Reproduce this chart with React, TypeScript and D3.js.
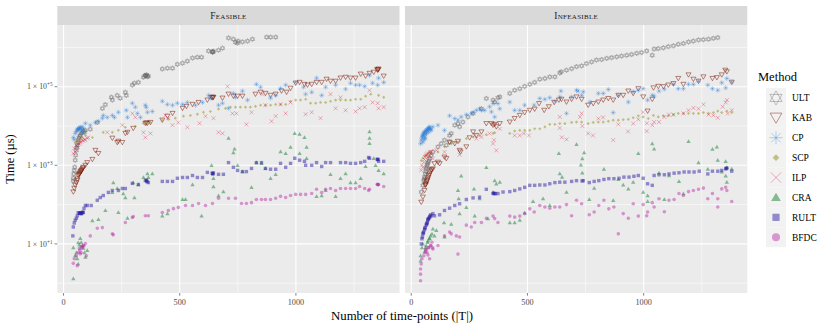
import React from 'react'
import * as d3 from 'd3'

// each point: [number of time-points |T|, time in µs]
type Pt = [number, number]

const methods = ['ULT', 'KAB', 'CP', 'SCP', 'ILP', 'CRA', 'RULT', 'BFDC']
const panels = ['Feasible', 'Infeasible']
const yBreaks = [1e1, 1e3, 1e5]
const yMinorBreaks = [1e0, 1e2, 1e4, 1e6]
const xBreaks = [0, 500, 1000]
const xMinorBreaks = [250, 750, 1250]

// ---------- Feasible ----------
const ultFeasible: Pt[] = [[42,400],[42,470],[44,600],[46,740],[48,900],[50,1350],[52,1800],[55,2400],[57,2800],[59,3200],[61,3800],[63,4400],[66,5000],[70,5500],[72,5800],[76,6500],[81,6900],[85,7500],[90,7000],[94,7800],[115,8300],[145,12300],[167,28000],[180,35000],[206,54000],[210,46000],[231,60000],[244,51000],[266,72000],[270,60000],[296,110000],[305,123000],[322,129000],[344,174000],[350,190000],[352,195000],[356,190000],[358,200000],[362,180000],[365,186000],[425,282000],[447,295000],[469,295000],[490,372000],[512,398000],[533,447000],[555,537000],[576,562000],[594,562000],[624,813000],[640,780000],[641,759000],[643,760000],[645,800000],[667,851000],[684,955000],[710,1.74e6],[731,1.62e6],[740,1.35e6],[749,1.29e6],[751,1.45e6],[770,1.38e6],[792,1.45e6],[813,1.62e6],[874,1.82e6],[891,1.82e6],[913,1.82e6]]
const kabFeasible: Pt[] = [[42,210],[46,260],[50,310],[55,360],[59,410],[60,450],[63,550],[66,580],[68,600],[70,620],[72,660],[74,700],[76,720],[78,750],[81,790],[83,850],[85,890],[94,1000],[102,1170],[124,1410],[137,2400],[150,2000],[210,4900],[231,3800],[236,4100],[253,3800],[266,6500],[275,6900],[300,8700],[352,11700],[356,12000],[361,11700],[374,12300],[425,14100],[447,17800],[469,20900],[512,28200],[529,31600],[555,35500],[581,39800],[619,45700],[637,53700],[641,52000],[643,54000],[645,53700],[684,51300],[710,64600],[731,57500],[749,57500],[770,57500],[826,64600],[848,72400],[869,67600],[891,60300],[913,64600],[938,77600],[960,72400],[977,91200],[999,123000],[1016,129000],[1037,115000],[1050,110000],[1068,115000],[1089,129000],[1111,129000],[1132,155000],[1149,138000],[1171,138000],[1192,166000],[1214,174000],[1235,166000],[1257,166000],[1279,209000],[1300,186000],[1317,219000],[1335,234000],[1350,275000],[1352,263000],[1354,270000],[1356,282000],[1378,186000]]
const cpFeasible: Pt[] = [[42,5100],[46,4500],[50,6500],[55,7200],[59,7800],[60,8200],[63,8700],[66,8000],[68,8600],[70,9000],[72,9300],[76,8200],[80,9500],[81,6900],[85,8700],[94,11700],[115,10500],[137,12300],[150,13200],[167,15800],[171,18600],[188,16600],[210,18600],[219,16600],[236,22400],[270,25100],[275,16600],[296,38000],[309,30200],[318,20900],[331,16600],[352,33900],[356,30000],[361,22400],[382,23400],[425,42700],[447,35500],[469,33900],[490,38000],[512,35500],[533,39800],[568,33900],[598,39800],[624,60300],[632,51300],[667,33900],[684,38000],[710,28200],[731,67600],[740,53700],[770,77600],[792,45700],[830,115000],[848,97700],[891,51300],[913,60300],[934,91200],[956,110000],[999,129000],[1033,97700],[1042,64600],[1068,72400],[1089,166000],[1111,60300],[1128,97700],[1171,110000],[1214,87100],[1235,123000],[1257,110000],[1274,110000],[1296,102000],[1317,195000],[1330,123000],[1352,110000],[1356,166000],[1378,129000]]
const scpFeasible: Pt[] = [[50,3800],[59,4400],[72,4600],[81,5100],[94,5800],[124,5100],[171,6900],[210,6900],[236,7800],[266,9300],[309,9800],[344,11700],[356,12300],[374,12300],[425,14100],[451,14800],[481,15800],[516,17800],[546,18600],[576,20000],[602,22400],[632,23400],[667,26900],[697,28200],[718,30200],[740,30200],[761,30200],[783,30200],[804,30200],[826,31600],[848,33900],[869,33900],[891,33900],[913,35500],[934,35500],[956,35500],[977,42700],[999,45700],[1020,45700],[1042,47900],[1063,38000],[1085,38000],[1106,39800],[1128,39800],[1149,42700],[1171,45700],[1192,45700],[1214,45700],[1235,45700],[1257,47900],[1279,47900],[1300,57500],[1322,64600],[1356,60300],[1378,53700]]
const ilpFeasible: Pt[] = [[42,2000],[46,2700],[50,2200],[55,3200],[59,3000],[63,3600],[68,3500],[72,3800],[76,4000],[81,4400],[85,4200],[90,4600],[94,4400],[102,4900],[106,5100],[188,6900],[253,10500],[296,20900],[309,16600],[344,6900],[352,5100],[374,6500],[438,18600],[451,15800],[469,10500],[494,12300],[533,9300],[585,11700],[611,17800],[645,15800],[667,6900],[684,6500],[706,102000],[727,20900],[744,20900],[787,11000],[809,22400],[856,64600],[869,33900],[895,13200],[913,17800],[934,35500],[956,20900],[977,39800],[1042,20000],[1068,22400],[1106,15800],[1149,64600],[1171,28200],[1192,53700],[1214,25100],[1257,23400],[1274,28200],[1296,30200],[1317,81300],[1330,39800],[1352,38000],[1356,28200],[1378,30200]]
const craFeasible: Pt[] = [[42,1.3],[42,8.1],[50,5.0],[55,6.0],[59,4.2],[63,3.1],[63,10.7],[68,9.5],[72,13.8],[76,11],[81,9.1],[85,7.8],[90,6.0],[94,4.6],[102,6.8],[124,39],[150,42],[180,71],[210,204],[214,363],[231,257],[236,63],[257,191],[266,151],[275,45],[300,363],[305,151],[322,324],[344,490],[361,617],[365,490],[382,617],[425,52],[447,59],[512,135],[525,135],[555,324],[594,52],[637,1000],[645,288],[645,468],[667,170],[688,214],[710,4900],[731,2100],[736,2600],[749,1000],[770,692],[809,275],[830,1170],[852,1120],[869,832],[891,468],[913,589],[934,2240],[956,2000],[977,2880],[995,6500],[1016,6170],[1016,2000],[1037,5100],[1046,2880],[1046,1510],[1089,162],[1111,170],[1128,229],[1149,589],[1171,162],[1192,468],[1214,617],[1235,363],[1257,363],[1279,468],[1300,933],[1317,7240],[1317,4900],[1317,3630],[1335,1510],[1343,1000],[1356,741],[1378,617]]
const rultFeasible: Pt[] = [[40,16],[42,27],[46,34],[50,40],[55,45],[59,52],[63,62],[68,60],[70,60],[72,62],[74,62],[76,58],[78,60],[81,63],[83,64],[85,63],[88,80],[94,95],[102,95],[119,95],[145,129],[158,151],[171,170],[193,204],[210,229],[236,229],[253,257],[266,257],[296,347],[322,324],[352,407],[356,420],[358,400],[360,380],[365,363],[425,389],[447,389],[469,389],[490,468],[512,490],[533,490],[555,550],[576,490],[598,490],[619,661],[640,630],[641,617],[643,600],[645,640],[667,589],[688,589],[710,1170],[731,891],[749,741],[770,692],[787,692],[809,832],[830,1170],[852,1170],[869,832],[891,794],[913,794],[934,1120],[956,891],[977,1120],[995,1510],[1016,1350],[1037,1260],[1042,1000],[1068,1000],[1089,1170],[1111,933],[1128,1170],[1149,1170],[1192,1170],[1214,1170],[1235,1120],[1257,1120],[1279,1170],[1296,1260],[1313,1580],[1317,1510],[1350,1420],[1352,1410],[1354,1400],[1356,1260],[1378,1260]]
const bfdcFeasible: Pt[] = [[42,3.2],[46,4.2],[55,5.0],[59,2.8],[63,6.0],[68,7.6],[70,7],[72,5.6],[75,6],[76,8.5],[80,8],[85,9.1],[88,9],[94,10.2],[98,5.0],[115,16],[145,25],[167,26],[210,18],[214,17],[266,35],[296,47],[300,50],[352,52],[365,52],[425,63],[451,71],[473,79],[494,85],[525,95],[555,95],[581,107],[611,95],[641,107],[667,145],[710,145],[740,145],[766,107],[787,107],[809,112],[830,135],[852,135],[869,135],[891,135],[913,145],[934,162],[956,151],[977,170],[999,182],[1020,182],[1042,182],[1068,191],[1089,245],[1111,204],[1128,245],[1149,257],[1171,229],[1192,257],[1214,257],[1235,257],[1257,257],[1274,288],[1296,257],[1313,229],[1317,245],[1350,330],[1352,324],[1354,320],[1356,324],[1378,288]]

// ---------- Infeasible ----------
const ultInfeasible: Pt[] = [[43,209],[50,309],[54,407],[56,450],[57,501],[60,603],[62,700],[64,813],[66,900],[69,995],[70,1100],[72,1200],[76,1300],[79,1480],[86,1780],[93,2190],[115,2950],[129,3550],[143,4370],[151,3240],[165,5750],[165,3890],[172,6460],[187,10500],[201,11500],[208,9550],[222,12600],[244,17000],[266,20900],[302,27500],[323,50100],[352,45700],[359,40700],[373,52500],[381,55000],[424,67600],[445,81300],[467,89100],[488,102000],[510,115000],[531,129000],[553,155000],[575,162000],[596,178000],[618,178000],[639,224000],[646,240000],[668,263000],[690,288000],[711,324000],[733,339000],[754,389000],[776,427000],[797,479000],[819,490000],[841,525000],[862,550000],[884,575000],[905,603000],[927,631000],[948,661000],[970,708000],[991,741000],[1013,813000],[1037,631000],[1045,912000],[1063,933000],[1085,977000],[1106,1.05e6],[1128,1.1e6],[1149,1.2e6],[1171,1.26e6],[1193,1.38e6],[1214,1.45e6],[1236,1.55e6],[1257,1.58e6],[1279,1.62e6],[1300,1.7e6],[1319,1.78e6]]
const kabInfeasible: Pt[] = [[43,115],[50,155],[57,229],[60,309],[62,320],[64,339],[66,380],[69,407],[71,450],[74,501],[76,550],[79,603],[82,680],[86,741],[88,780],[93,813],[100,1100],[115,1200],[122,1100],[143,1620],[151,1480],[165,3890],[187,3550],[201,4070],[208,2400],[212,2190],[237,2950],[251,5010],[266,7080],[280,5750],[302,7080],[323,11500],[345,11500],[352,10500],[359,11000],[366,9550],[381,11500],[424,12600],[445,15500],[467,18600],[488,21900],[510,25100],[531,26900],[550,37200],[572,25100],[592,30900],[615,39800],[635,45700],[646,47900],[668,40700],[690,47900],[711,55000],[733,47900],[761,33900],[783,37200],[805,40700],[826,45700],[848,50100],[869,45700],[891,60300],[912,60300],[934,77600],[955,67600],[977,89100],[998,55000],[1017,24000],[1037,47900],[1042,93300],[1063,102000],[1085,100000],[1106,110000],[1128,120000],[1149,162000],[1171,115000],[1193,200000],[1214,155000],[1236,138000],[1257,178000],[1296,162000],[1315,170000],[1336,200000],[1351,263000],[1358,240000],[1379,130000]]
const cpInfeasible: Pt[] = [[40,3550],[43,4370],[46,5000],[48,5500],[50,5750],[50,3890],[52,6000],[53,6500],[55,4500],[56,6800],[57,7080],[58,5200],[60,4790],[62,6000],[63,7300],[64,7760],[66,6500],[67,8000],[70,7800],[72,8510],[74,8800],[75,7000],[77,9000],[79,9550],[81,8200],[83,8500],[86,7760],[93,9550],[115,10500],[143,7760],[165,18200],[187,15500],[201,14100],[215,17000],[237,19500],[258,20900],[266,21900],[280,25100],[294,27500],[302,25100],[316,25100],[337,30900],[345,22900],[352,37200],[359,17000],[373,37200],[381,27500],[424,40700],[445,25100],[467,25100],[488,33900],[529,33900],[553,50100],[575,47900],[596,52500],[618,42700],[639,55000],[644,77600],[668,20900],[690,55000],[711,81300],[718,77600],[733,60300],[740,74100],[769,40700],[805,67600],[826,67600],[848,85100],[869,21900],[891,60300],[934,40700],[955,74100],[977,81300],[998,89100],[1017,45700],[1037,60300],[1045,57500],[1066,77600],[1089,87100],[1128,115000],[1149,89100],[1171,89100],[1193,115000],[1214,115000],[1236,138000],[1276,110000],[1296,89100],[1319,81300],[1336,126000],[1353,93300],[1358,162000],[1379,132000]]
const scpInfeasible: Pt[] = [[43,1320],[50,1510],[57,1740],[64,1780],[72,2000],[79,2190],[86,2000],[115,2190],[143,2950],[172,3550],[187,3890],[208,4070],[237,4790],[266,5250],[294,5750],[323,6030],[352,6460],[359,6760],[424,6460],[445,7410],[467,7760],[488,7760],[510,7760],[531,8510],[553,8510],[575,9550],[596,11000],[618,11000],[639,11500],[661,11500],[690,12300],[711,12600],[733,12600],[761,11500],[783,12300],[805,12600],[826,12600],[848,13200],[869,14100],[891,14100],[912,14500],[934,14800],[955,16200],[977,18200],[998,17000],[1020,15500],[1042,18600],[1063,17000],[1085,18200],[1106,18200],[1128,19500],[1149,20900],[1171,20900],[1193,20900],[1214,20900],[1236,20900],[1257,21900],[1279,20900],[1300,21900],[1319,24000],[1336,21900],[1358,24000],[1379,21900]]
const ilpInfeasible: Pt[] = [[43,741],[46,1000],[50,891],[54,1200],[57,1400],[60,1620],[64,1780],[67,1900],[72,2000],[74,1620],[76,1700],[79,2190],[83,2000],[86,2240],[93,1480],[108,2400],[143,2190],[208,1860],[273,5750],[280,4790],[302,5250],[337,6460],[352,3550],[356,4370],[366,2400],[381,8510],[445,5750],[467,5750],[485,6460],[506,5750],[639,17000],[639,8910],[648,5130],[668,4570],[726,17000],[733,20900],[736,10000],[761,6460],[782,5750],[805,15500],[825,16600],[869,4370],[891,11000],[933,7240],[955,11500],[977,14800],[997,22400],[1013,7410],[1014,11700],[1037,10500],[1045,12600],[1066,12600],[1089,17000],[1109,19500],[1128,19500],[1171,20900],[1193,25100],[1214,28800],[1236,27500],[1257,35500],[1279,19500],[1300,18600],[1319,16200],[1340,30900],[1353,39800],[1358,45700],[1362,20900],[1379,25100]]
const craInfeasible: Pt[] = [[40,5.0],[40,3.7],[46,8.1],[50,10],[57,6.2],[62,8],[64,9.1],[70,11],[72,12],[78,14],[79,13.5],[83,16],[89,18],[93,24],[100,16],[108,22],[141,35],[143,15],[172,32],[201,229],[204,141],[208,59],[215,537],[237,85],[270,251],[273,52],[294,141],[323,891],[330,44],[352,209],[359,407],[366,339],[381,372],[424,35],[445,35],[467,40],[488,62],[524,120],[567,141],[596,95],[635,2000],[639,617],[649,501],[668,209],[711,3390],[730,1020],[736,1480],[736,646],[744,2090],[766,135],[787,263],[829,794],[869,129],[891,437],[912,316],[934,251],[955,372],[977,2000],[998,209],[1017,170],[1017,120],[1037,3550],[1045,2630],[1066,646],[1089,135],[1109,550],[1152,389],[1171,191],[1193,4070],[1236,1170],[1276,794],[1296,2570],[1315,2950],[1319,1350],[1336,676],[1353,1260],[1353,537],[1358,891],[1358,372],[1379,813]]
const rultInfeasible: Pt[] = [[43,10],[46,13.5],[48,15],[50,18],[52,19],[53,20],[57,23],[58,25],[60,26],[64,30],[66,32],[67,33],[69,35],[71,40],[72,42],[74,44],[76,45],[79,48],[80,50],[83,55],[86,52],[93,59],[100,52],[122,55],[143,71],[165,81],[187,95],[208,105],[237,135],[266,148],[294,155],[323,245],[352,191],[355,195],[359,191],[362,190],[373,191],[395,209],[424,214],[445,229],[467,251],[488,275],[510,309],[531,309],[553,316],[575,316],[596,339],[618,363],[639,372],[661,372],[690,389],[711,407],[735,400],[740,407],[766,363],[787,389],[807,407],[829,437],[850,457],[872,457],[894,468],[915,501],[937,501],[958,525],[977,550],[998,468],[1017,339],[1037,309],[1045,550],[1066,575],[1089,575],[1109,603],[1131,631],[1152,646],[1174,676],[1195,676],[1217,676],[1239,708],[1276,603],[1296,708],[1319,708],[1336,741],[1353,813],[1355,830],[1358,851],[1379,708]]
const bfdcInfeasible: Pt[] = [[40,1.15],[40,1.7],[40,2.3],[43,3.1],[46,4.2],[54,5.0],[60,6.2],[62,7],[64,7.2],[68,6],[72,5.2],[74,8.1],[76,8],[79,4.2],[83,9.1],[85,9],[89,11],[92,8],[93,7.4],[115,9.1],[143,16],[165,20],[172,18],[194,16],[201,5.5],[208,15],[237,30],[258,27],[273,35],[302,35],[323,45],[352,51],[359,44],[373,35],[424,51],[445,48],[467,51],[488,59],[510,78],[529,65],[553,95],[575,87],[596,81],[618,87],[639,87],[668,100],[690,52],[711,129],[733,105],[766,55],[787,65],[807,95],[829,129],[850,78],[872,87],[891,18],[912,59],[934,45],[955,105],[977,51],[998,100],[1013,52],[1017,65],[1037,112],[1045,87],[1066,141],[1089,66],[1109,129],[1131,135],[1152,191],[1171,170],[1193,214],[1214,229],[1236,245],[1257,263],[1276,141],[1296,191],[1319,141],[1319,87],[1336,251],[1353,275],[1358,229],[1379,120]]

const seriesByPanel: Pt[][][] = [
  [ultFeasible, kabFeasible, cpFeasible, scpFeasible, ilpFeasible, craFeasible, rultFeasible, bfdcFeasible],
  [ultInfeasible, kabInfeasible, cpInfeasible, scpInfeasible, ilpInfeasible, craInfeasible, rultInfeasible, bfdcInfeasible]
]

// look of each method (same order as methods)
const styles = [
  { shape: 'hexagram', color: '#666666', open: true, size: 2.6, key: 7, alpha: 0.55 },
  { shape: 'triangleDown', color: '#7F1D0A', open: true, size: 2.9, key: 6.8, alpha: 0.65 },
  { shape: 'asterisk', color: '#2E7FD6', open: true, size: 2.5, key: 6.5, alpha: 0.5 },
  { shape: 'diamond', color: '#8F8F1A', open: false, size: 1.6, key: 3.4, alpha: 0.5 },
  { shape: 'cross', color: '#D71941', open: true, size: 2.0, key: 5.2, alpha: 0.5 },
  { shape: 'triangleUp', color: '#17803A', open: false, size: 2.5, key: 5.6, alpha: 0.5 },
  { shape: 'square', color: '#2D1FA5', open: false, size: 1.7, key: 3.6, alpha: 0.5 },
  { shape: 'circle', color: '#B525A5', open: false, size: 1.8, key: 4.0, alpha: 0.45 }
]

function polygon(x: number, y: number, r: number, start: number): string {
  const p = [0, 1, 2].map(i => {
    const a = start + (i * 2 * Math.PI) / 3
    return [x + r * Math.cos(a), y + r * Math.sin(a)].map(v => v.toFixed(2)).join(',')
  })
  return 'M' + p.join('L') + 'Z'
}

function shapePath(shape: string, x: number, y: number, s: number): string {
  switch (shape) {
    case 'hexagram':
      return polygon(x, y, s, -Math.PI / 2) + polygon(x, y, s, Math.PI / 2)
    case 'triangleDown':
      return polygon(x, y - s * 0.2, s, Math.PI / 2)
    case 'triangleUp':
      return polygon(x, y + s * 0.15, s, -Math.PI / 2)
    case 'asterisk': {
      const d = s * 0.707
      return `M${x - s},${y}L${x + s},${y}M${x},${y - s}L${x},${y + s}M${x - d},${y - d}L${x + d},${y + d}M${x - d},${y + d}L${x + d},${y - d}`
    }
    case 'cross':
      return `M${x - s},${y - s}L${x + s},${y + s}M${x - s},${y + s}L${x + s},${y - s}`
    case 'diamond':
      return `M${x},${y - s}L${x + s},${y}L${x},${y + s}L${x - s},${y}Z`
    case 'square':
      return `M${x - s},${y - s}h${2 * s}v${2 * s}h${-2 * s}Z`
    default:
      return `M${x - s},${y}a${s},${s} 0 1,0 ${2 * s},0a${s},${s} 0 1,0 ${-2 * s},0`
  }
}

const font = '"Liberation Serif", "DejaVu Serif", serif'

export default function App() {
  const panelX = [[57.3, 399.5], [405, 747.3]]
  const top = 25
  const bottom = 293
  const stripTop = 6

  const all = seriesByPanel.flat(2)
  const [tMin, tMax] = d3.extent(all, d => d[0]) as [number, number]
  const tPad = (tMax - tMin) * 0.05
  const [lMin, lMax] = d3.extent(all, d => Math.log10(d[1])) as [number, number]
  const lPad = (lMax - lMin) * 0.05

  const y = d3.scaleLog().domain([10 ** (lMin - lPad), 10 ** (lMax + lPad)]).range([bottom, top])
  const xScales = panelX.map(r => d3.scaleLinear().domain([tMin - tPad, tMax + tPad]).range(r))

  return (
    <svg width={830} height={332} style={{ position: 'absolute', left: 0, top: 0, background: '#fff' }} fontFamily={font}>
      {panels.map((name, pi) => {
        const x = xScales[pi]
        const [x0, x1] = panelX[pi]
        return (
          <g key={name}>
            <rect x={x0} y={top} width={x1 - x0} height={bottom - top} fill="#EBEBEB" />
            {yMinorBreaks.map(b => (
              <line key={'ym' + b} x1={x0} x2={x1} y1={y(b)} y2={y(b)} stroke="#fff" strokeWidth={0.55} />
            ))}
            {xMinorBreaks.map(b => (
              <line key={'xm' + b} x1={x(b)} x2={x(b)} y1={top} y2={bottom} stroke="#fff" strokeWidth={0.55} />
            ))}
            {yBreaks.map(b => (
              <line key={'y' + b} x1={x0} x2={x1} y1={y(b)} y2={y(b)} stroke="#fff" strokeWidth={1.1} />
            ))}
            {xBreaks.map(b => (
              <line key={'x' + b} x1={x(b)} x2={x(b)} y1={top} y2={bottom} stroke="#fff" strokeWidth={1.1} />
            ))}
            {seriesByPanel[pi].map((pts, si) => {
              const st = styles[si]
              return (
                <g key={methods[si]}>
                  {pts.map((p, k) => (
                    <path
                      key={k}
                      d={shapePath(st.shape, x(p[0]), y(p[1]), st.size)}
                      fill={st.open ? 'none' : st.color}
                      fillOpacity={st.alpha}
                      stroke={st.open ? st.color : 'none'}
                      strokeOpacity={st.alpha}
                      strokeWidth={st.shape === 'triangleDown' ? 0.8 : 0.65}
                    />
                  ))}
                </g>
              )
            })}
            <rect x={x0} y={stripTop} width={x1 - x0} height={top - stripTop} fill="#D9D9D9" />
            <text x={(x0 + x1) / 2} y={19} textAnchor="middle" fontSize={9.5} fill="#1A1A1A" style={{ fontVariant: 'small-caps', letterSpacing: '0.3px' }}>
              {name}
            </text>
            {xBreaks.map(b => (
              <g key={'xt' + b}>
                <line x1={x(b)} x2={x(b)} y1={bottom} y2={bottom + 2.7} stroke="#333" strokeWidth={0.6} />
                <text x={x(b)} y={bottom + 12} textAnchor="middle" fontSize={8.2} fill="#4D4D4D">{b}</text>
              </g>
            ))}
          </g>
        )
      })}
      {yBreaks.map(b => (
        <g key={'yt' + b}>
          <line x1={54.6} x2={57.3} y1={y(b)} y2={y(b)} stroke="#333" strokeWidth={0.6} />
          <text x={52.5} y={y(b) + 2.6} textAnchor="end" fontSize={7.8} fill="#4D4D4D">
            {'1 × 10'}
            <tspan dy={-3} fontSize={5.2}>{'+' + Math.round(Math.log10(b))}</tspan>
          </text>
        </g>
      ))}
      <text x={402} y={320} textAnchor="middle" fontSize={12.8} fill="#000">Number of time-points (|T|)</text>
      <text transform={`translate(13.5,${(top + bottom) / 2}) rotate(-90)`} textAnchor="middle" fontSize={12.5} fill="#000">Time (µs)</text>
      <text x={758} y={80.5} fontSize={12.5} fill="#000">Method</text>
      {methods.map((m, i) => {
        const st = styles[i]
        const cy = 88 + 19.9 * (i + 0.5)
        return (
          <g key={m}>
            <rect x={766} y={88 + 19.9 * i} width={20} height={19.9} fill="#F2F2F2" />
            <path
              d={shapePath(st.shape, 776, cy, st.key)}
              fill={st.open ? 'none' : st.color}
              fillOpacity={st.alpha}
              stroke={st.open ? st.color : 'none'}
              strokeOpacity={st.alpha}
              strokeWidth={0.7}
            />
            <text x={792} y={cy + 3.3} fontSize={9.5} fill="#000">{m}</text>
          </g>
        )
      })}
    </svg>
  )
}
